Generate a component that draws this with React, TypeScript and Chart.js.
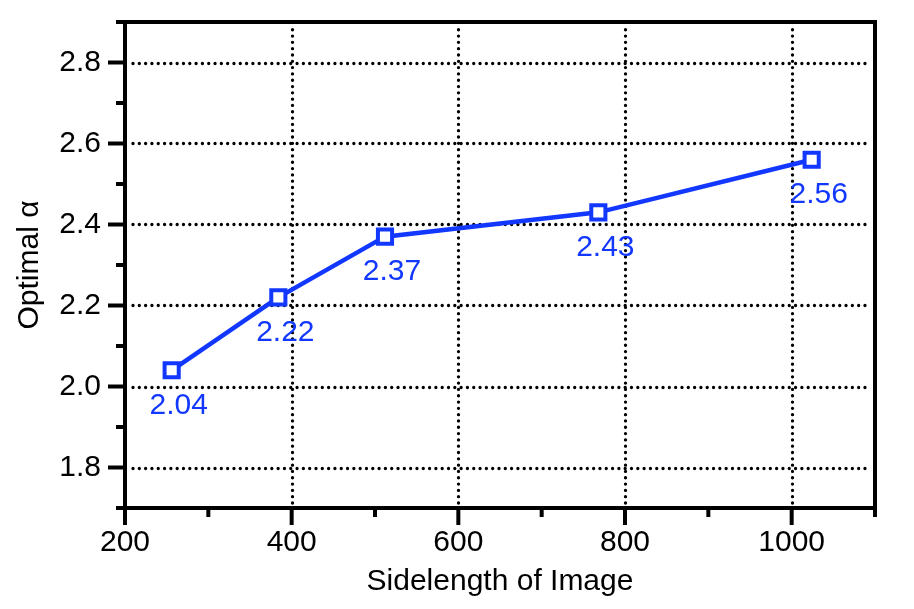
import React, { useEffect, useRef } from "react";
import { Chart, registerables } from "chart.js";

Chart.register(...registerables);

const sideLengths = [256, 384, 512, 768, 1024];
const optimalAlpha = [2.04, 2.22, 2.37, 2.43, 2.56];
const xMajorTicks = [200, 400, 600, 800, 1000];
const xMinorTicks = [300, 500, 700, 900, 1100];
const yMajorTicks = [1.8, 2.0, 2.2, 2.4, 2.6, 2.8];
const yMinorTicks = [1.7, 1.9, 2.1, 2.3, 2.5, 2.7, 2.9];

const BLUE = "#1238ff";
const FONT = "'Liberation Sans', Arial, Helvetica, sans-serif";
const FS = 30;

const framePlugin = {
  id: "framePlugin",
  beforeDatasetsDraw(chart: any) {
    const { ctx, chartArea, scales } = chart;
    const xs = scales.x;
    const ys = scales.y;
    ctx.save();
    ctx.strokeStyle = "#000";
    ctx.lineWidth = 3.3;
    ctx.lineCap = "round";
    ctx.setLineDash([0.01, 6.3]);
    xMajorTicks.forEach((v) => {
      if (v === xs.min) return;
      const px = Math.round(xs.getPixelForValue(v)) + 0.5;
      ctx.beginPath();
      ctx.moveTo(px, chartArea.bottom - 5);
      ctx.lineTo(px, chartArea.top + 3);
      ctx.stroke();
    });
    yMajorTicks.forEach((v) => {
      const py = Math.round(ys.getPixelForValue(v)) + 0.5;
      ctx.beginPath();
      ctx.moveTo(chartArea.left + 8, py);
      ctx.lineTo(chartArea.right - 5, py);
      ctx.stroke();
    });
    ctx.restore();
  },
  afterDatasetsDraw(chart: any) {
    const { ctx, chartArea, scales } = chart;
    const xs = scales.x;
    const ys = scales.y;
    const { left, right, top, bottom } = chartArea;
    ctx.save();
    ctx.strokeStyle = "#000";
    ctx.lineWidth = 4;
    ctx.lineCap = "butt";
    ctx.beginPath();
    ctx.moveTo(left - 2, top);
    ctx.lineTo(right + 2, top);
    ctx.moveTo(right, top);
    ctx.lineTo(right, bottom);
    ctx.moveTo(right + 2, bottom);
    ctx.lineTo(left - 2, bottom);
    ctx.moveTo(left, bottom);
    ctx.lineTo(left, top);
    ctx.stroke();
    const tick = (x1: number, y1: number, x2: number, y2: number) => {
      ctx.beginPath();
      ctx.moveTo(x1, y1);
      ctx.lineTo(x2, y2);
      ctx.stroke();
    };
    xMajorTicks.forEach((v) => {
      const px = xs.getPixelForValue(v);
      tick(px, bottom, px, bottom + 17);
    });
    xMinorTicks.forEach((v) => {
      const px = xs.getPixelForValue(v);
      tick(px, bottom, px, bottom + 9);
    });
    yMajorTicks.forEach((v) => {
      const py = ys.getPixelForValue(v);
      tick(left, py, left - 17, py);
    });
    yMinorTicks.forEach((v) => {
      const py = ys.getPixelForValue(v);
      tick(left, py, left - 9, py);
    });
    ctx.fillStyle = BLUE;
    ctx.font = `${FS}px ${FONT}`;
    ctx.textAlign = "center";
    ctx.textBaseline = "middle";
    sideLengths.forEach((x, i) => {
      const px = xs.getPixelForValue(x);
      const py = ys.getPixelForValue(optimalAlpha[i]);
      ctx.fillText(optimalAlpha[i].toFixed(2), px + 7, py + 35);
    });
    ctx.restore();
  },
};

export default function App() {
  const ref = useRef<HTMLCanvasElement | null>(null);
  useEffect(() => {
    document.body.style.margin = "0";
    const canvas = ref.current;
    if (!canvas) return;
    const chart = new Chart(canvas, {
      type: "line",
      data: {
        datasets: [
          {
            data: sideLengths.map((x, i) => ({ x, y: optimalAlpha[i] })),
            borderColor: BLUE,
            borderWidth: 4.5,
            pointStyle: "rect",
            pointRadius: 10,
            pointBorderWidth: 4,
            pointBackgroundColor: "#fff",
            pointBorderColor: BLUE,
            tension: 0,
          },
        ],
      },
      options: {
        animation: false,
        responsive: false,
        devicePixelRatio: 1,
        layout: { padding: { top: 22, right: 39, left: 0, bottom: 0 } },
        plugins: { legend: { display: false }, tooltip: { enabled: false } },
        scales: {
          x: {
            type: "linear",
            min: 200,
            max: 1100,
            afterBuildTicks: (s: any) => {
              s.ticks = xMajorTicks.map((v) => ({ value: v }));
            },
            afterFit: (s: any) => {
              s.height = 101;
              s.paddingLeft = 0;
              s.paddingRight = 0;
            },
            grid: { display: false, drawTicks: false },
            border: { display: false },
            ticks: {
              color: "#000",
              font: { family: FONT, size: FS },
              padding: 17,
              maxRotation: 0,
              autoSkip: false,
              callback: (v: any) => String(v),
            },
            title: {
              display: true,
              text: "Sidelength of Image",
              color: "#000",
              font: { family: FONT, size: FS },
              padding: { top: 0, bottom: 9 },
            },
          },
          y: {
            type: "linear",
            min: 1.7,
            max: 2.9,
            afterBuildTicks: (s: any) => {
              s.ticks = yMajorTicks.map((v) => ({ value: v }));
            },
            afterFit: (s: any) => {
              s.width = 125;
              s.paddingTop = 0;
              s.paddingBottom = 0;
            },
            grid: { display: false, drawTicks: false },
            border: { display: false },
            ticks: {
              color: "#000",
              font: { family: FONT, size: FS },
              padding: 24,
              autoSkip: false,
              callback: (v: any) => Number(v).toFixed(1),
            },
            title: {
              display: true,
              text: "Optimal α",
              color: "#000",
              font: { family: FONT, size: FS },
              padding: { top: 12, bottom: 0 },
            },
          },
        },
      },
      plugins: [framePlugin],
    });
    return () => chart.destroy();
  }, []);
  return (
    <div style={{ position: "absolute", left: 0, top: 0, width: 914, height: 609, background: "#fff" }}>
      <canvas ref={ref} width={914} height={609} style={{ width: 914, height: 609 }} />
    </div>
  );
}
